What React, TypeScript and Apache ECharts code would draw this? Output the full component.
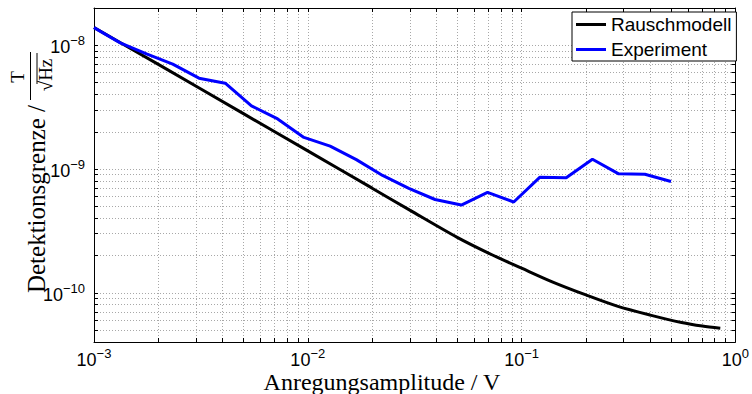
import React, { useEffect, useRef } from "react";
import * as echarts from "echarts";

// Rauschmodell (noise model) curve
const rauschX = [0.001, 0.002, 0.005, 0.01, 0.02, 0.03, 0.05, 0.07, 0.1, 0.14, 0.2, 0.28, 0.4, 0.56, 0.7, 0.85];
const rauschY = [1.39e-8, 7.0e-9, 2.8e-9, 1.4e-9, 7.0e-10, 4.65e-10, 2.8e-10, 2.09e-10, 1.58e-10, 1.22e-10, 9.6e-11, 7.8e-11, 6.6e-11, 5.75e-11, 5.38e-11, 5.17e-11];

// Experiment curve
const expX = [0.001, 0.001327, 0.00176, 0.002335, 0.003098, 0.004109, 0.005451, 0.00723, 0.00959, 0.01272, 0.01687, 0.02238, 0.02969, 0.03938, 0.05224, 0.0693, 0.0919, 0.1219, 0.1617, 0.2145, 0.2845, 0.3774, 0.5];
const expY = [1.387e-8, 1.045e-8, 8.51e-9, 7.03e-9, 5.42e-9, 4.94e-9, 3.24e-9, 2.54e-9, 1.8e-9, 1.53e-9, 1.19e-9, 8.87e-10, 6.97e-10, 5.67e-10, 5.11e-10, 6.47e-10, 5.41e-10, 8.59e-10, 8.49e-10, 1.2e-9, 9.14e-10, 9.07e-10, 7.93e-10];

// Tick / grid values
const xTickValues = [
  0.001, 0.002, 0.003, 0.004, 0.005, 0.006, 0.007, 0.008, 0.009,
  0.01, 0.02, 0.03, 0.04, 0.05, 0.06, 0.07, 0.08, 0.09,
  0.1, 0.2, 0.3, 0.4, 0.5, 0.6, 0.7, 0.8, 0.9, 1,
];
const xLabelValues = [0.001, 0.01, 0.1, 1];
const yTickValues = [
  5e-11, 6e-11, 7e-11, 8e-11, 9e-11,
  1e-10, 2e-10, 3e-10, 4e-10, 5e-10, 6e-10, 7e-10, 8e-10, 9e-10,
  1e-9, 2e-9, 3e-9, 4e-9, 5e-9, 6e-9, 7e-9, 8e-9, 9e-9,
  1e-8,
];
const yLabelValues = [1e-10, 1e-9, 1e-8];

const xMin = 0.001;
const xMax = 1;
const yMin = 4e-11;
const yMax = 2e-8;

const seriesNames = ["Rauschmodell", "Experiment"];

function powLabel(v: number): string {
  const e = Math.round(Math.log10(v));
  const s = e < 0 ? "\u2212" + Math.abs(e) : String(e);
  return "{b|10}{s|" + s + "}";
}

const richLabel = {
  b: {
    fontFamily: "Liberation Sans",
    fontSize: 18,
    lineHeight: 22,
    color: "#000",
    verticalAlign: "bottom",
  },
  s: {
    fontFamily: "Liberation Sans",
    fontSize: 13,
    lineHeight: 13,
    color: "#000",
    verticalAlign: "top",
  },
};

const gridLine = { show: true, lineStyle: { color: "#a8a8a8", width: 1, type: [1, 2] } };

export default function App() {
  const ref = useRef<HTMLDivElement>(null);
  useEffect(() => {
    if (!ref.current) return;
    const chart = echarts.init(ref.current, undefined, { renderer: "svg" });
    const option: any = {
      animation: false,
      backgroundColor: "#fff",
      grid: { left: 94, right: 13, top: 8, bottom: 52, containLabel: false },
      legend: {
        data: seriesNames,
        orient: "vertical",
        left: 572,
        top: 12,
        icon: "rect",
        itemWidth: 30,
        itemHeight: 3,
        itemGap: 4,
        padding: [2, 5, 1, 4],
        borderColor: "#000",
        borderWidth: 1,
        backgroundColor: "#fff",
        textStyle: { fontFamily: "Liberation Sans", fontSize: 19, color: "#000", lineHeight: 21 },
      },
      xAxis: [
        {
          type: "log",
          logBase: 10,
          min: xMin,
          max: xMax,
          axisLine: { show: true, lineStyle: { color: "#000", width: 1 } },
          axisTick: { show: true, inside: true, length: 4, customValues: xTickValues, lineStyle: { color: "#000" } },
          axisLabel: { customValues: xLabelValues, formatter: powLabel, rich: richLabel, margin: 5 },
          splitLine: gridLine,
        },
        {
          type: "log",
          logBase: 10,
          position: "top",
          min: xMin,
          max: xMax,
          axisLine: { show: true, lineStyle: { color: "#000", width: 1 } },
          axisTick: { show: true, inside: true, length: 4, customValues: xTickValues, lineStyle: { color: "#000" } },
          axisLabel: { show: false },
          splitLine: { show: false },
        },
      ],
      yAxis: [
        {
          type: "log",
          logBase: 10,
          min: yMin,
          max: yMax,
          axisLine: { show: true, lineStyle: { color: "#000", width: 1 } },
          axisTick: { show: true, inside: true, length: 4, customValues: yTickValues, lineStyle: { color: "#000" } },
          axisLabel: { customValues: yLabelValues, formatter: powLabel, rich: richLabel, margin: 9 },
          splitLine: gridLine,
        },
        {
          type: "log",
          logBase: 10,
          position: "right",
          min: yMin,
          max: yMax,
          axisLine: { show: true, lineStyle: { color: "#000", width: 1 } },
          axisTick: { show: true, inside: true, length: 4, customValues: yTickValues, lineStyle: { color: "#000" } },
          axisLabel: { show: false },
          splitLine: { show: false },
        },
      ],
      series: [
        {
          name: seriesNames[0],
          type: "line",
          xAxisIndex: 0,
          yAxisIndex: 0,
          data: rauschX.map((x, i) => [x, rauschY[i]]),
          showSymbol: false,
          symbol: "none",
          smooth: 0.3,
          color: "#000000",
          lineStyle: { color: "#000000", width: 3 },
        },
        {
          name: seriesNames[1],
          type: "line",
          xAxisIndex: 0,
          yAxisIndex: 0,
          data: expX.map((x, i) => [x, expY[i]]),
          showSymbol: false,
          symbol: "none",
          color: "#0000ff",
          lineStyle: { color: "#0000ff", width: 3 },
        },
      ],
      graphic: [
        {
          type: "text",
          x: 382,
          y: 382,
          style: {
            text: "Anregungsamplitude / V",
            fontFamily: "Liberation Serif",
            fontSize: 24,
            fill: "#000",
            align: "center",
            verticalAlign: "middle",
          },
        },
        {
          type: "text",
          x: 36,
          y: 199,
          rotation: Math.PI / 2,
          style: {
            text: "Detektionsgrenze /",
            fontFamily: "Liberation Serif",
            fontSize: 25,
            fill: "#000",
            align: "center",
            verticalAlign: "middle",
          },
        },
        {
          type: "text",
          x: 17,
          y: 77,
          rotation: Math.PI / 2,
          style: {
            text: "T",
            fontFamily: "Liberation Serif",
            fontSize: 19,
            fill: "#000",
            align: "center",
            verticalAlign: "middle",
          },
        },
        {
          type: "line",
          shape: { x1: 30.5, y1: 52, x2: 30.5, y2: 100 },
          style: { stroke: "#000", lineWidth: 1 },
        },
        {
          type: "text",
          x: 45,
          y: 75,
          rotation: Math.PI / 2,
          style: {
            text: "\u221AHz",
            fontFamily: "Liberation Serif",
            fontSize: 19,
            fill: "#000",
            align: "center",
            verticalAlign: "middle",
          },
        },
        {
          type: "line",
          shape: { x1: 37, y1: 53, x2: 37, y2: 84 },
          style: { stroke: "#000", lineWidth: 1 },
        },
      ],
    };
    chart.setOption(option);
    return () => chart.dispose();
  }, []);
  return (
    <div
      ref={ref}
      style={{ position: "absolute", left: 0, top: 0, width: 752, height: 394 }}
    />
  );
}
